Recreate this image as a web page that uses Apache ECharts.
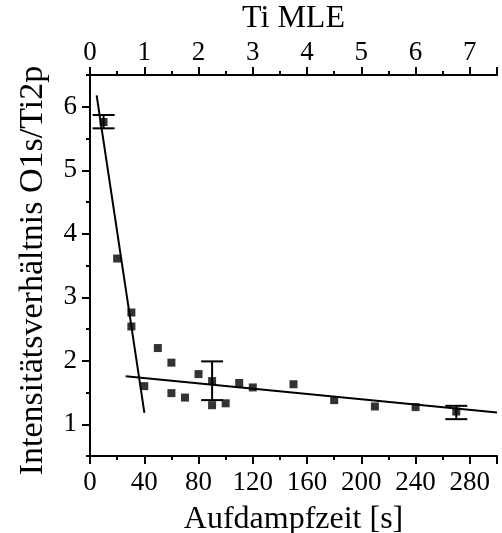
<!DOCTYPE html>
<html><head><meta charset="utf-8">
<script src="https://cdn.jsdelivr.net/npm/echarts@6/dist/echarts.min.js"></script>
<style>html,body{margin:0;padding:0;background:#fff}#c{width:502px;height:533px}</style>
</head><body><div id="c"></div>
<script>
// Data
const time = [10, 20, 30.5, 30.5, 40, 50, 60, 60, 70, 80, 90, 90, 100, 110, 120, 150, 180, 210, 240, 270];
const ratio = [5.76, 3.61, 2.76, 2.54, 1.60, 2.20, 1.97, 1.49, 1.42, 1.79, 1.68, 1.30, 1.33, 1.65, 1.58, 1.63, 1.38, 1.28, 1.27, 1.20];
const errX = [10, 90, 270];
const errLow = [5.66, 1.38, 1.08];
const errHigh = [5.87, 1.99, 1.29];
const fit1X = [4.9, 40.1];
const fit1Y = [6.18, 1.18];
const fit2X = [26.3, 300];
const fit2Y = [1.756, 1.185];
const xTicks = [0, 40, 80, 120, 160, 200, 240, 280];
const yTicks = [1, 2, 3, 4, 5, 6];
const yMinorTicks = [0.5, 1.5, 2.5, 3.5, 4.5, 5.5, 6.5];
const mleTicks = [0, 1, 2, 3, 4, 5, 6, 7];

const FONT = 'Liberation Serif';
const axisLine = {show: true, lineStyle: {color: '#000', width: 2}};
const majorTick = {color: '#000', width: 2};
const chart = echarts.init(document.getElementById('c'));
chart.setOption({
  animation: false,
  backgroundColor: '#fff',
  grid: {left: 90, right: 5, top: 75, bottom: 77, containLabel: false, outerBoundsMode: 'none'},
  xAxis: [{
    type: 'value', position: 'bottom', min: 0, max: 300, interval: 40,
    axisLine: axisLine,
    axisTick: {show: true, inside: false, length: 8, lineStyle: majorTick},
    minorTick: {show: true, splitNumber: 2, length: 4, lineStyle: majorTick},
    splitLine: {show: false},
    axisLabel: {color: '#000', fontFamily: FONT, fontSize: 27, margin: 13, customValues: xTicks},
    name: 'Aufdampfzeit [s]', nameLocation: 'middle', nameGap: 48,
    nameTextStyle: {color: '#000', fontFamily: FONT, fontSize: 32}
  }, {
    type: 'value', position: 'top', min: 0, max: 7.5, interval: 1,
    axisLine: axisLine,
    axisTick: {show: true, inside: false, length: 8, lineStyle: majorTick},
    minorTick: {show: true, splitNumber: 2, length: 4, lineStyle: majorTick},
    splitLine: {show: false},
    axisLabel: {color: '#000', fontFamily: FONT, fontSize: 27, margin: 9, customValues: mleTicks},
    name: 'Ti MLE', nameLocation: 'middle', nameGap: 39,
    nameTextStyle: {color: '#000', fontFamily: FONT, fontSize: 32}
  }],
  yAxis: [{
    type: 'value', min: 0.5, max: 6.5,
    axisLine: axisLine,
    axisTick: {show: true, inside: false, length: 8, customValues: yTicks, lineStyle: majorTick},
    splitLine: {show: false},
    axisLabel: {color: '#000', fontFamily: FONT, fontSize: 27, margin: 13, customValues: yTicks},
    name: 'Intensitätsverhältnis O1s/Ti2p', nameLocation: 'middle', nameGap: 40,
    nameTextStyle: {color: '#000', fontFamily: FONT, fontSize: 34, padding: [0, 10, 0, 0]}
  }, {
    type: 'value', min: 0.5, max: 6.5, position: 'left',
    axisLine: {show: false},
    axisTick: {show: true, inside: false, length: 4, customValues: yMinorTicks, lineStyle: majorTick},
    splitLine: {show: false},
    axisLabel: {show: false}
  }],
  series: [{
    type: 'scatter', xAxisIndex: 0, yAxisIndex: 0, symbol: 'rect', symbolSize: 8,
    itemStyle: {color: '#000'},
    data: time.map((t, i) => [t, ratio[i]]), z: 5
  }, {
    type: 'custom', xAxisIndex: 0, yAxisIndex: 0,
    data: errX.map((x, i) => [x, errLow[i], errHigh[i]]),
    renderItem: function (params, api) {
      const x = api.value(0);
      const lo = api.coord([x, api.value(1)]);
      const hi = api.coord([x, api.value(2)]);
      const hw = 11;
      const st = {stroke: '#000', lineWidth: 2};
      return {type: 'group', children: [
        {type: 'line', shape: {x1: lo[0], y1: lo[1], x2: hi[0], y2: hi[1]}, style: st},
        {type: 'line', shape: {x1: lo[0] - hw, y1: lo[1], x2: lo[0] + hw, y2: lo[1]}, style: st},
        {type: 'line', shape: {x1: hi[0] - hw, y1: hi[1], x2: hi[0] + hw, y2: hi[1]}, style: st}
      ]};
    }
  }, {
    type: 'line', xAxisIndex: 0, yAxisIndex: 0, showSymbol: false, symbol: 'none',
    lineStyle: {color: '#000', width: 2},
    data: fit1X.map((x, i) => [x, fit1Y[i]])
  }, {
    type: 'line', xAxisIndex: 0, yAxisIndex: 0, showSymbol: false, symbol: 'none',
    lineStyle: {color: '#000', width: 2},
    data: fit2X.map((x, i) => [x, fit2Y[i]])
  }]
});
</script></body></html>
